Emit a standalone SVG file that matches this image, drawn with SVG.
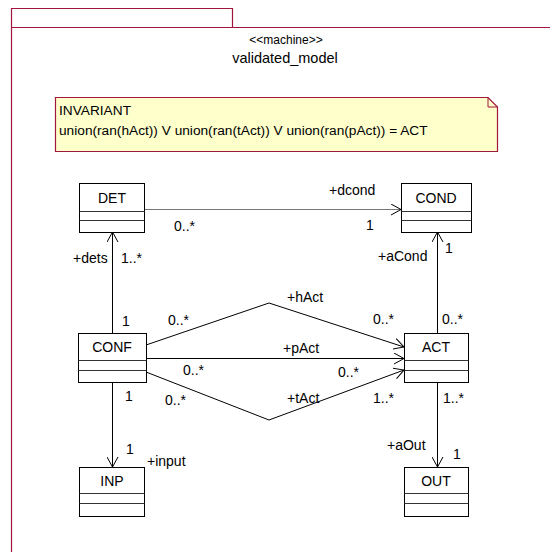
<svg xmlns="http://www.w3.org/2000/svg" width="550" height="552" viewBox="0 0 550 552">
<defs>
<marker id="arr" viewBox="0 0 10 12" refX="10" refY="6" markerWidth="10" markerHeight="12" markerUnits="userSpaceOnUse" orient="auto">
<path d="M0,0.5 L10,6 L0,11.5" fill="none" stroke="#000" stroke-width="1"/>
</marker>
</defs>
<style>
text{font-family:"Liberation Sans",Arial,sans-serif;font-size:14px;fill:#000}
.frame{fill:none;stroke:#A0163C;stroke-width:1.2}
.box{fill:#fff;stroke:#000;stroke-width:1}
.div{stroke:#333;stroke-width:1}
.ln{fill:none;stroke:#000;stroke-width:1}
.nm{text-anchor:middle}
</style>
<g id="frame">
<path class="frame" d="M11.5,552 V8.5 H232.5 V27.5"/>
<path class="frame" d="M11.5,27.5 H550"/>
<text x="286" y="44" class="nm" style="font-size:12px">&lt;&lt;machine&gt;&gt;</text>
<text x="285" y="63" class="nm" style="font-size:14.5px">validated_model</text>
</g>
<g id="note">
<path d="M55.5,97.5 H488 L497.5,107 V151.5 H55.5 Z" fill="#FFFFCC" stroke="#A0163C" stroke-width="1.2"/>
<path d="M488,97.5 V107 H497.5" fill="none" stroke="#A0163C" stroke-width="1"/>
<text x="59" y="115" style="font-size:13.7px">INVARIANT</text>
<text x="59" y="135" style="font-size:13.7px">union(ran(hAct)) V union(ran(tAct)) V union(ran(pAct)) = ACT</text>
</g>
<g id="connectors">
<line x1="144" y1="209.5" x2="401" y2="209.5" stroke="#777" stroke-width="1" marker-end="url(#arr)"/>
<line class="ln" x1="112.5" y1="333" x2="112.5" y2="232" marker-end="url(#arr)"/>
<line class="ln" x1="437.5" y1="333" x2="437.5" y2="232" marker-end="url(#arr)"/>
<polyline class="ln" points="146,345 269,303 404,347" marker-end="url(#arr)"/>
<line class="ln" x1="146" y1="358.5" x2="404" y2="358.5" marker-end="url(#arr)"/>
<polyline class="ln" points="146,372 269,420 404,370" marker-end="url(#arr)"/>
<line class="ln" x1="112.5" y1="382" x2="112.5" y2="467" marker-end="url(#arr)"/>
<line class="ln" x1="437.5" y1="382" x2="437.5" y2="467" marker-end="url(#arr)"/>
<text x="329" y="195">+dcond</text>
<text x="174" y="231">0..*</text>
<text x="366" y="230">1</text>
<text x="73" y="263">+dets</text>
<text x="121" y="263">1..*</text>
<text x="122" y="326">1</text>
<text x="378" y="261">+aCond</text>
<text x="445" y="253">1</text>
<text x="442" y="324">0..*</text>
<text x="287" y="302">+hAct</text>
<text x="168" y="325">0..*</text>
<text x="373" y="324">0..*</text>
<text x="283" y="353">+pAct</text>
<text x="183" y="375">0..*</text>
<text x="338" y="377">0..*</text>
<text x="287" y="403">+tAct</text>
<text x="165" y="405">0..*</text>
<text x="373" y="403">1..*</text>
<text x="443" y="403">1..*</text>
<text x="125" y="401">1</text>
<text x="126" y="454">1</text>
<text x="147" y="466">+input</text>
<text x="387" y="450">+aOut</text>
<text x="453" y="459">1</text>
</g>
<g id="DET">
<rect class="box" x="79.5" y="183.5" width="65" height="49"/>
<line class="div" x1="79.5" y1="211.5" x2="144.5" y2="211.5"/>
<line class="div" x1="79.5" y1="220.5" x2="144.5" y2="220.5"/>
<text x="112" y="203" class="nm">DET</text>
</g>
<g id="COND">
<rect class="box" x="401.5" y="183.5" width="70" height="49"/>
<line class="div" x1="401.5" y1="211.5" x2="471.5" y2="211.5"/>
<line class="div" x1="401.5" y1="220.5" x2="471.5" y2="220.5"/>
<text x="436" y="203" class="nm">COND</text>
</g>
<g id="CONF">
<rect class="box" x="78.5" y="333.5" width="68" height="49"/>
<line class="div" x1="78.5" y1="360.5" x2="146.5" y2="360.5"/>
<line class="div" x1="78.5" y1="370.5" x2="146.5" y2="370.5"/>
<text x="112" y="352" class="nm">CONF</text>
</g>
<g id="ACT">
<rect class="box" x="404.5" y="333.5" width="64" height="49"/>
<line class="div" x1="404.5" y1="360.5" x2="468.5" y2="360.5"/>
<line class="div" x1="404.5" y1="370.5" x2="468.5" y2="370.5"/>
<text x="436" y="352" class="nm">ACT</text>
</g>
<g id="INP">
<rect class="box" x="79.5" y="467.5" width="65" height="49"/>
<line class="div" x1="79.5" y1="493.5" x2="144.5" y2="493.5"/>
<line class="div" x1="79.5" y1="503.5" x2="144.5" y2="503.5"/>
<text x="112" y="486" class="nm">INP</text>
</g>
<g id="OUT">
<rect class="box" x="404.5" y="467.5" width="64" height="49"/>
<line class="div" x1="404.5" y1="493.5" x2="468.5" y2="493.5"/>
<line class="div" x1="404.5" y1="503.5" x2="468.5" y2="503.5"/>
<text x="436" y="486" class="nm">OUT</text>
</g>
</svg>
